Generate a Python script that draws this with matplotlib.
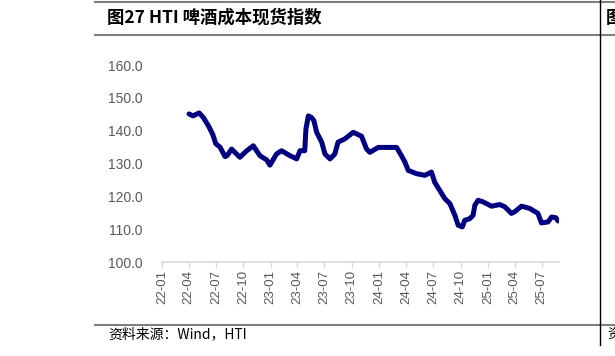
import numpy as np
import matplotlib
matplotlib.use("Agg")
from matplotlib import pyplot as plt
import matplotlib.dates as mdates
from matplotlib.lines import Line2D

plt.rcParams['font.family'] = ['Liberation Sans', 'Noto Sans CJK SC', 'DejaVu Sans']

# HTI beer cost spot index
dates = np.array([
    '2022-04-02', '2022-04-15', '2022-05-06', '2022-05-20', '2022-06-06',
    '2022-06-20', '2022-07-01', '2022-07-15', '2022-08-01', '2022-08-08',
    '2022-08-23', '2022-09-03', '2022-09-20', '2022-10-13', '2022-11-04',
    '2022-11-26', '2022-12-19', '2022-12-30', '2023-01-21', '2023-02-07',
    '2023-03-07', '2023-03-30', '2023-04-10', '2023-04-26', '2023-04-30',
    '2023-05-08', '2023-05-19', '2023-05-27', '2023-06-05', '2023-06-22',
    '2023-07-03', '2023-07-20', '2023-08-05', '2023-08-16', '2023-09-08',
    '2023-10-06', '2023-11-03', '2023-11-20', '2023-12-01', '2023-12-29',
    '2024-02-29', '2024-03-16', '2024-03-28', '2024-04-08', '2024-05-06',
    '2024-06-03', '2024-06-25', '2024-07-06', '2024-07-23', '2024-08-09',
    '2024-08-26', '2024-09-12', '2024-09-23', '2024-10-07', '2024-10-15',
    '2024-11-01', '2024-11-12', '2024-11-18', '2024-11-29', '2024-12-16',
    '2025-01-13', '2025-02-10', '2025-02-27', '2025-03-21', '2025-04-01',
    '2025-04-24', '2025-05-22', '2025-06-18', '2025-06-30', '2025-07-22',
    '2025-08-03', '2025-08-17', '2025-08-25',
], dtype='datetime64[D]')
values = [
    145.1, 144.5, 145.4, 144.0, 141.5,
    139.0, 136.0, 135.0, 132.1, 132.4,
    134.4, 133.4, 131.9, 133.9, 135.4,
    132.4, 131.1, 129.5, 132.9, 133.9,
    132.4, 131.4, 133.9, 133.9, 140.5,
    144.5, 144.0, 143.0, 139.5, 136.5,
    132.9, 131.4, 132.9, 136.5, 137.5,
    139.5, 138.3, 134.4, 133.4, 134.9,
    134.9, 132.4, 130.4, 127.9, 126.9,
    126.4, 127.4, 124.3, 121.8, 119.3,
    117.8, 114.2, 111.2, 110.7, 112.7,
    113.2, 114.2, 117.3, 118.8, 118.3,
    117.0, 117.5, 116.8, 114.8, 115.3,
    117.0, 116.3, 114.8, 111.9, 112.2,
    113.7, 113.5, 112.5,
]

title = '图27 HTI 啤酒成本现货指数'
source = '资料来源：Wind，HTI'
yticks = [100, 110, 120, 130, 140, 150, 160]

W, H = 615, 356
fig = plt.figure(figsize=(W / 100, H / 100), dpi=100)
ax = fig.add_axes([162 / W, 1 - 262 / H, (559 - 162) / W, (262 - 65) / H])

ax.plot(dates.astype(object), values, color='#000080',
        lw=3.6, solid_capstyle='round', solid_joinstyle='round')

ax.set_xlim(np.datetime64('2022-01-01').astype(object),
            np.datetime64('2025-08-28').astype(object))
ax.set_ylim(100, 160)
ax.set_yticks(yticks)
ax.set_yticklabels([f'{v:.1f}' for v in yticks])

ax.xaxis.set_major_locator(mdates.MonthLocator(bymonth=[1, 4, 7, 10]))
ax.xaxis.set_major_formatter(mdates.DateFormatter('%y-%m'))
for lbl in ax.get_xticklabels():
    lbl.set_rotation(90)

for s in ['top', 'right', 'left']:
    ax.spines[s].set_visible(False)
ax.spines['bottom'].set_color('#d9d9d9')
ax.spines['bottom'].set_linewidth(1.2)
ax.tick_params(axis='y', length=0, pad=14, labelsize=10, labelcolor='#595959')
ax.tick_params(axis='x', length=4, color='#d9d9d9', width=1, pad=2,
               labelsize=9.5, labelcolor='#595959')

# frame lines around the figure caption
grey = '#7f7f7f'
for yy in [2, 35, 325]:
    fig.add_artist(Line2D([95 / W, 1], [1 - yy / H] * 2, color=grey, lw=1.5))
fig.add_artist(Line2D([600 / W] * 2, [1, 1 - 345 / H], color='black', lw=1))

fig.text(107 / W, 1 - 18 / H, title, fontsize=12.5, fontweight='bold',
         va='center', ha='left', family=['Noto Sans CJK SC', 'DejaVu Sans'])
fig.text(108 / W, 1 - 334 / H, source, fontsize=10, va='center', ha='left',
         family=['Noto Sans CJK SC', 'DejaVu Sans'])
# neighbouring panel's caption, cut by the page edge as in the reference
fig.text(606 / W, 1 - 18 / H, '图', fontsize=12.5, fontweight='bold',
         va='center', ha='left', family=['Noto Sans CJK SC'])
fig.text(607 / W, 1 - 334 / H, '资', fontsize=10, va='center', ha='left',
         family=['Noto Sans CJK SC'])

fig.savefig('out.png', dpi=100)
